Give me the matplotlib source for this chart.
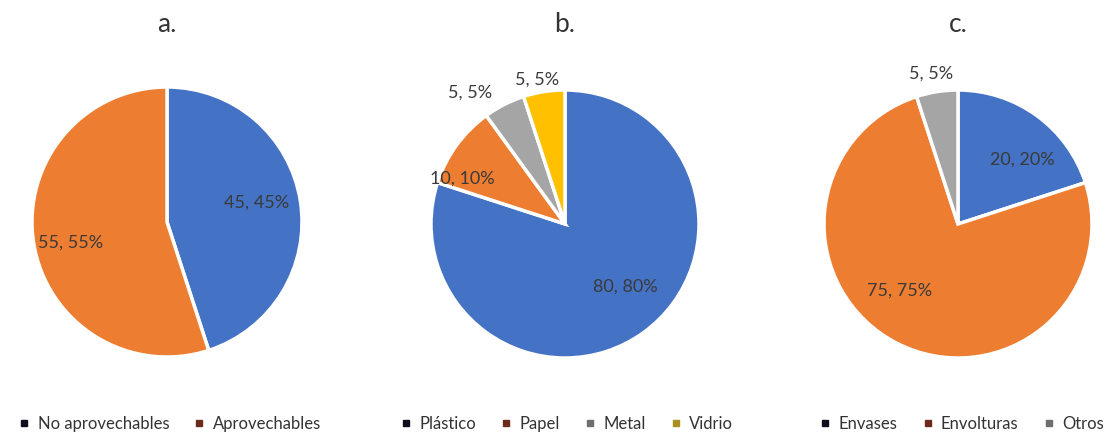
import matplotlib
matplotlib.use("Agg")
from matplotlib import pyplot as plt
from matplotlib.lines import Line2D
import numpy as np

plt.rcParams['font.family'] = ['Lato', 'DejaVu Sans']

# datos
titulos = ['a.', 'b.', 'c.']
cat_a = ['No aprovechables', 'Aprovechables']
val_a = [45, 55]
cat_b = ['Plástico', 'Papel', 'Metal', 'Vidrio']
val_b = [80, 10, 5, 5]
cat_c = ['Envases', 'Envolturas', 'Otros']
val_c = [20, 75, 5]

# estilo
colores = ['#4472C4', '#ED7D31', '#A5A5A5', '#FFC000']
marcas = ['#0E0E1C', '#6B2A1A', '#6E6E6E', '#A8901E']
texto = '#3A3A3A'

W, H = 1110, 438
fig = plt.figure(figsize=(W / 100, H / 100), dpi=100)
ax = fig.add_axes([0, 0, 1, 1])

def pastel(valores, cats, cx, cy, r, explode, dist, giro, titulo, legx):
    n = len(valores)
    wedges, _ = ax.pie(valores, colors=colores[:n], startangle=90, counterclock=False,
                       center=(cx, H - cy), radius=r, explode=explode, frame=True,
                       wedgeprops=dict(edgecolor='white', linewidth=2.5))
    total = sum(valores)
    for i, w in enumerate(wedges):
        # posicion de la etiqueta segun el angulo medio de la cuña
        th = np.deg2rad((w.theta1 + w.theta2) / 2 + giro[i])
        x0, y0 = w.center
        etiqueta = '%d, %d%%' % (valores[i], round(100 * valores[i] / total))
        ax.text(x0 + dist[i] * r * np.cos(th), y0 + dist[i] * r * np.sin(th), etiqueta,
                ha='center', va='center', fontsize=13, color=texto, zorder=5)
    ax.text(cx, H - 25, titulo, ha='center', va='center', fontsize=19, color='#333333')
    handles = [Line2D([], [], marker='s', linestyle='None', markersize=5,
                      markerfacecolor=marcas[i], markeredgecolor=marcas[i]) for i in range(n)]
    leg = ax.legend(handles, cats, loc='center', bbox_to_anchor=(legx, H - 424),
                    bbox_transform=ax.transData, ncol=n, frameon=False, fontsize=12,
                    handlelength=0.6, handletextpad=0.5, columnspacing=1.5,
                    labelcolor='#333333')
    ax.add_artist(leg)
    ax.legend_ = None

pastel(val_a, cat_a, 167, 222, 135, [0, 0], [0.68, 0.73], [3, 3], titulos[0], 170)
pastel(val_b, cat_b, 565, 224, 134, [0, 0.05, 0.05, 0.05], [0.65, 0.84, 1.21, 1.10],
       [8, 12, 9, 2], titulos[1], 567)
pastel(val_c, cat_c, 958, 224, 134, [0, 0, 0], [0.68, 0.66, 1.14], [-9, -14, 1],
       titulos[2], 962)

ax.set_xlim(0, W)
ax.set_ylim(0, H)
ax.set_aspect('equal')
ax.axis('off')

fig.savefig('out.png', dpi=100, facecolor='white')
